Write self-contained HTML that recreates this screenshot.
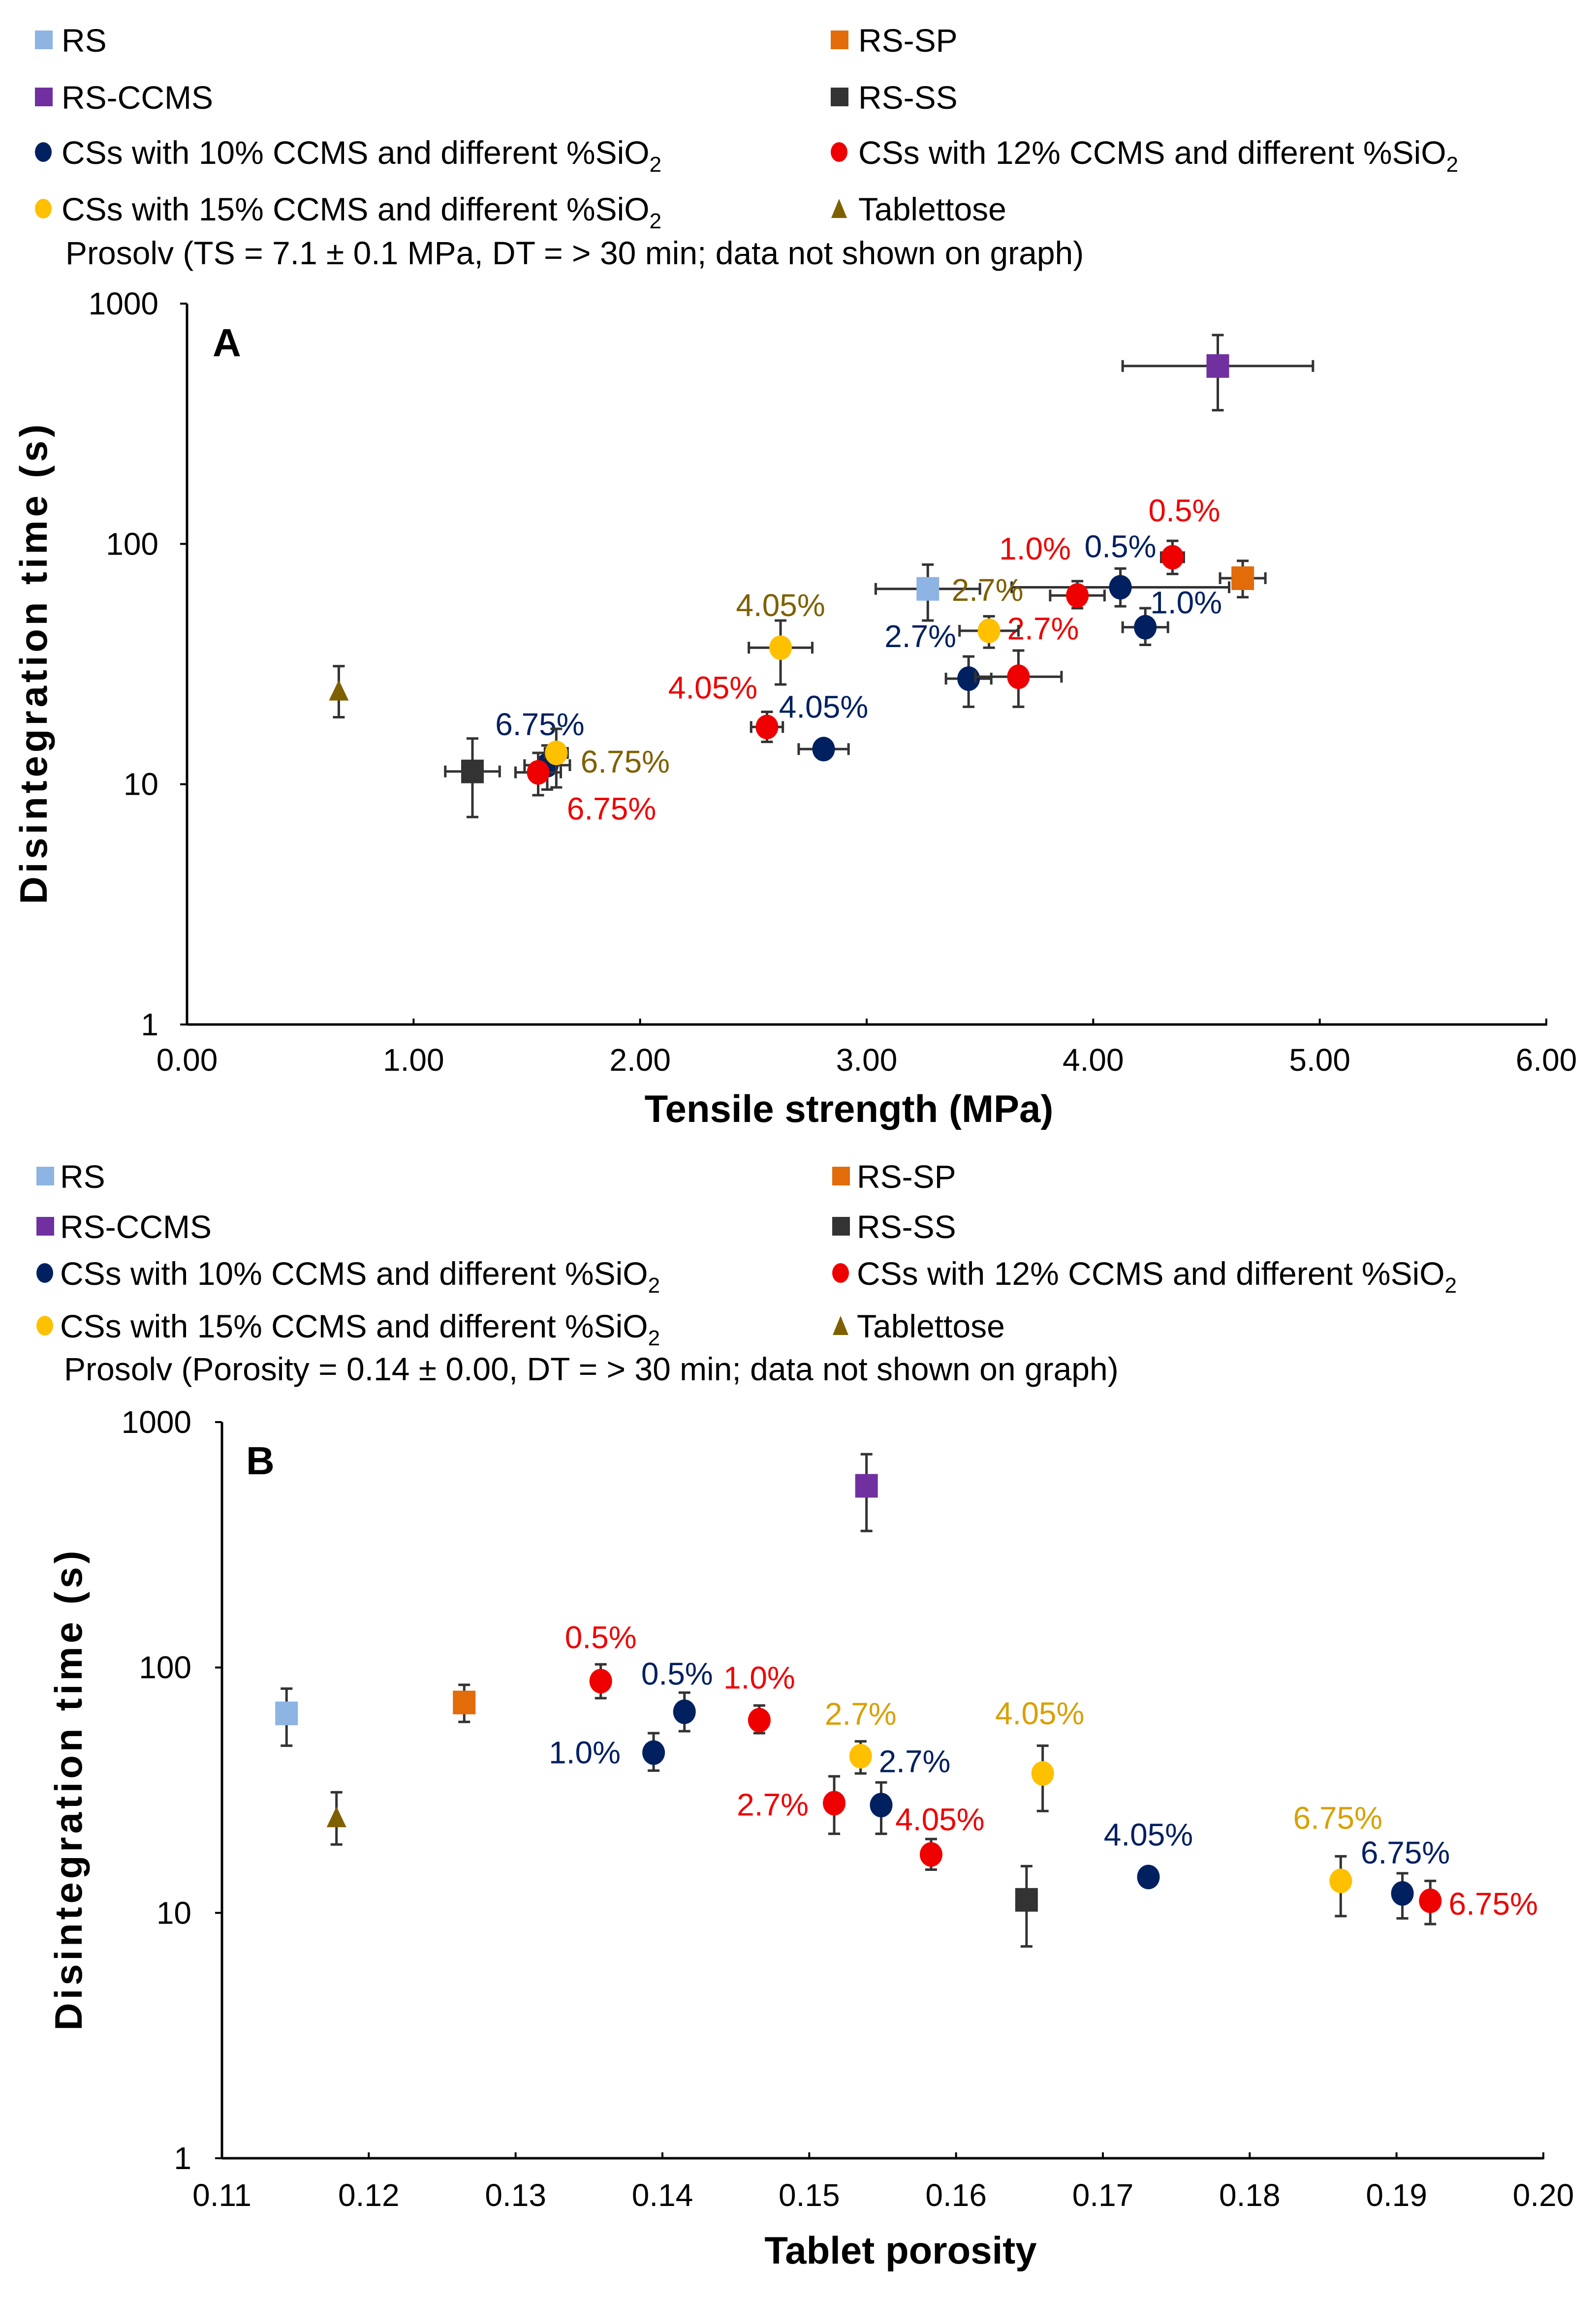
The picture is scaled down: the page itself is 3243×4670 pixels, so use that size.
<!DOCTYPE html>
<html><head><meta charset="utf-8"><style>
html,body{margin:0;padding:0;background:#fff;}
svg{display:block;font-family:"Liberation Sans",Arial,sans-serif;}
</style></head><body>
<svg id="fig" width="3243" height="4670" viewBox="0 0 3243 4670" xmlns="http://www.w3.org/2000/svg"></svg>
<script>
// ---- data ----
const seriesNames = ["RS","RS-SP","RS-CCMS","RS-SS","Tablettose"];
const tsSingles = [3.27, 4.66, 4.55, 1.26, 0.67];
const tsSinglesErr = [0.23, 0.10, 0.42, 0.12, 0.0];
const porSingles = [0.1144, 0.1265, 0.1539, 0.1648, 0.1178];
const dtSingles = [65, 72, 550, 11.3, 24.5];
const dtSinglesLo = [48, 60, 360, 7.3, 19];
const dtSinglesHi = [82, 85, 740, 15.5, 31];

const blueLabels = ["0.5%","1.0%","2.7%","4.05%","6.75%"];
const blueTS = [4.12, 4.23, 3.45, 2.81, 1.59];
const blueTSErr = [0.48, 0.10, 0.10, 0.11, 0.10];
const bluePor = [0.1415, 0.1394, 0.1549, 0.1731, 0.1904];
const blueDT = [66, 45, 27.5, 14, 12];
const blueDTLo = [55, 38, 21, 13.3, 9.5];
const blueDTHi = [79, 54, 34, 14.7, 14.5];

const redLabels = ["0.5%","1.0%","2.7%","4.05%","6.75%"];
const redTS = [4.35, 3.93, 3.67, 2.56, 1.55];
const redTSErr = [0.05, 0.12, 0.19, 0.07, 0.10];
const redPor = [0.1358, 0.1466, 0.1517, 0.1583, 0.1923];
const redDT = [88, 61, 28, 17.3, 11.2];
const redDTLo = [75, 54, 21, 15, 9];
const redDTHi = [103, 70, 36, 20, 13.5];

const yelLabels = ["2.7%","4.05%","6.75%"];
const yelTS = [3.54, 2.62, 1.63];
const yelTSErr = [0.13, 0.14, 0.05];
const yelPor = [0.1535, 0.1659, 0.1862];
const yelDT = [43.5, 37, 13.5];
const yelDTLo = [37, 26, 9.7];
const yelDTHi = [50, 48, 17];

const xTicksA = ["0.00","1.00","2.00","3.00","4.00","5.00","6.00"];
const xTicksB = ["0.11","0.12","0.13","0.14","0.15","0.16","0.17","0.18","0.19","0.20"];
const yTicks = ["1","10","100","1000"];

// ---- drawing ----
const NS="http://www.w3.org/2000/svg";
const svg=document.getElementById('fig');
function el(tag,attrs,parent,name,inter){
  const e=document.createElementNS(NS,tag);
  for(const k in attrs)e.setAttribute(k,attrs[k]);
  
  
  (parent||svg).appendChild(e);return e;
}
const COL={RS:"#8db4e2","RS-SP":"#e26b0a","RS-CCMS":"#7030a0","RS-SS":"#333333",Tablettose:"#7f6000",blue:"#002060",red:"#ee0000",yel:"#ffc000"};

function legend(y0,rows,prosolv,lx,tx,rx,rtx){
  const g=el('g',{},svg,'legend',false);
  const items=[
    [lx,tx,rows[0],"sq",COL.RS,"RS"],[rx,rtx,rows[0],"sq",COL["RS-SP"],"RS-SP"],
    [lx,tx,rows[1],"sq",COL["RS-CCMS"],"RS-CCMS"],[rx,rtx,rows[1],"sq",COL["RS-SS"],"RS-SS"],
    [lx,tx,rows[2],"ci",COL.blue,"CSs with 10% CCMS and different %SiO"],[rx,rtx,rows[2],"ci",COL.red,"CSs with 12% CCMS and different %SiO"],
    [lx,tx,rows[3],"ci",COL.yel,"CSs with 15% CCMS and different %SiO"],[rx,rtx,rows[3],"tr",COL.Tablettose,"Tablettose"]];
  items.forEach(it=>{
    const [mx,txx,y,shape,c,label]=it;
    const eg=el('g',{},g,'legend-entry',false);
    if(shape==="sq")el('rect',{x:mx,y:y-19,width:36,height:38,fill:c},eg,'legend-marker',false);
    else if(shape==="ci")el('ellipse',{cx:mx+17,cy:y,rx:17,ry:20,fill:c},eg,'legend-marker',false);
    else el('polygon',{points:`${mx+1},${y+19} ${mx+33},${y+19} ${mx+17},${y-20}`,fill:c},eg,'legend-marker',false);
    const t=el('text',{x:txx,y:y+24,'font-size':66,fill:'#000'},eg,'legend-label',false);
    t.textContent=label;
    if(label.endsWith("SiO")){const s=el('tspan',{'font-size':44,dy:16},t,'subscript',false);s.textContent="2";}
  });
  const p=el('text',{x:tx+8,y:rows[4]+24,'font-size':66,fill:'#000'},g,'prosolv-note',false);
  p.textContent=prosolv;
}
legend(0,[81,197,309,424,513],"Prosolv (TS = 7.1 \u00B1 0.1 MPa, DT = > 30 min; data not shown on graph)",71,125,1688,1744);
legend(0,[2390,2492,2587,2694,2781],"Prosolv (Porosity = 0.14 \u00B1 0.00, DT = > 30 min; data not shown on graph)",74,122,1691,1741);

function chart(cfg){
  const g=el('g',{},svg,cfg.name,false);
  const X=v=>cfg.x0+(v-cfg.xmin)/(cfg.xmax-cfg.xmin)*(cfg.x1-cfg.x0);
  const Y=v=>cfg.y1-Math.log10(v)/3*(cfg.y1-cfg.y0);
  el('line',{x1:cfg.x0,y1:cfg.y0,x2:cfg.x0,y2:cfg.y1,stroke:'#000','stroke-width':5},g,'y-axis',false);
  el('line',{x1:cfg.x0,y1:cfg.y1,x2:cfg.x1,y2:cfg.y1,stroke:'#000','stroke-width':5},g,'x-axis',false);
  cfg.xt.forEach((lab,i)=>{
    const xv=cfg.xmin+i*(cfg.xmax-cfg.xmin)/(cfg.xt.length-1);
    el('line',{x1:X(xv),y1:cfg.y1-12,x2:X(xv),y2:cfg.y1+2,stroke:'#000','stroke-width':4},g,'x-tick',false);
    const t=el('text',{x:X(xv),y:cfg.xly,'font-size':64,'text-anchor':'middle',fill:'#000'},g,'x-tick-label',false);
    t.textContent=lab;
  });
  yTicks.forEach(lab=>{
    const v=+lab;
    el('line',{x1:cfg.x0-14,y1:Y(v),x2:cfg.x0,y2:Y(v),stroke:'#000','stroke-width':4},g,'y-tick',false);
    const t=el('text',{x:cfg.ylx,y:Y(v)+22,'font-size':64,'text-anchor':'end',fill:'#000'},g,'y-tick-label',false);
    t.textContent=lab;
  });
  const yt=el('text',{x:0,y:0,'font-size':78,'font-weight':'bold','text-anchor':'middle',fill:'#000',transform:`translate(${cfg.ytx},${cfg.yty}) rotate(-90)`,textLength:975,lengthAdjust:'spacing'},g,'y-axis-title',false);
  yt.textContent="Disintegration time (s)";
  const xt=el('text',{x:cfg.xtx,y:cfg.xty,'font-size':78,'font-weight':'bold','text-anchor':'middle',fill:'#000'},g,'x-axis-title',false);
  xt.textContent=cfg.xtitle;
  const pl=el('text',{x:cfg.px,y:cfg.py,'font-size':80,'font-weight':'bold',fill:'#000'},g,'panel-label',false);
  pl.textContent=cfg.panel;

  function err(x,y,xe,lo,hi,pg){
    if(xe>0){
      el('line',{x1:X(x-xe),y1:Y(y),x2:X(x+xe),y2:Y(y),stroke:'#333','stroke-width':5},pg,'x-error-bar',false);
      [x-xe,x+xe].forEach(v=>el('line',{x1:X(v),y1:Y(y)-12,x2:X(v),y2:Y(y)+12,stroke:'#333','stroke-width':5},pg,'x-error-cap',false));
    }
    el('line',{x1:X(x),y1:Y(lo),x2:X(x),y2:Y(hi),stroke:'#333','stroke-width':5},pg,'y-error-bar',false);
    [lo,hi].forEach(v=>el('line',{x1:X(x)-12,y1:Y(v),x2:X(x)+12,y2:Y(v),stroke:'#333','stroke-width':5},pg,'y-error-cap',false));
  }
  seriesNames.forEach((n,i)=>{
    const pg=el('g',{},g,'point-'+n.toLowerCase(),false);
    const xv=cfg.useTS?tsSingles[i]:porSingles[i];
    err(xv,dtSingles[i],cfg.useTS?tsSinglesErr[i]:0,dtSinglesLo[i],dtSinglesHi[i],pg);
    const cx=X(xv),cy=Y(dtSingles[i]);
    if(n==="Tablettose")el('polygon',{points:`${cx-20},${cy+20} ${cx+20},${cy+20} ${cx},${cy-22}`,fill:COL[n]},pg,'marker-tablettose',false);
    else el('rect',{x:cx-23,y:cy-24,width:46,height:48,fill:COL[n]},pg,'marker-'+n.toLowerCase(),false);
  });
  function group(name,col,labCol,labels,xs,xe,dt,lo,hi,offs){
    const sg=el('g',{},g,name,false);
    labels.forEach((lab,i)=>{
      const pg=el('g',{},sg,'point',false);
      const xv=xs[i];
      err(xv,dt[i],cfg.useTS?xe[i]:0,lo[i],hi[i],pg);
      el('ellipse',{cx:X(xv),cy:Y(dt[i]),rx:23,ry:25,fill:col},pg,'marker',false);
      const t=el('text',{x:X(xv)+offs[i][0],y:Y(dt[i])+offs[i][1]+22,'font-size':64,'text-anchor':'middle',fill:labCol},pg,'point-label',false);
      t.textContent=lab;
    });
  }
  group('series-10pct-ccms',COL.blue,COL.blue,blueLabels,cfg.useTS?blueTS:bluePor,blueTSErr,blueDT,blueDTLo,blueDTHi,cfg.blueOff);
  group('series-12pct-ccms',COL.red,COL.red,redLabels,cfg.useTS?redTS:redPor,redTSErr,redDT,redDTLo,redDTHi,cfg.redOff);
  group('series-15pct-ccms',COL.yel,cfg.yelLabCol,yelLabels,cfg.useTS?yelTS:yelPor,yelTSErr,yelDT,yelDTLo,yelDTHi,cfg.yelOff);
}
chart({name:'chart-a',panel:'A',useTS:true,x0:380,x1:3142,xmin:0,xmax:6,y0:617,y1:2082,xt:xTicksA,xly:2176,ylx:322,
  ytx:95,yty:1350,xtx:1725,xty:2280,xtitle:'Tensile strength (MPa)',px:432,py:724,yelLabCol:'#7f6000',
  blueOff:[[0,-83],[83,-50],[-98,-86],[0,-86],[-15,-83]],
  redOff:[[24,-95],[-86,-95],[50,-98],[-110,-80],[149,74]],
  yelOff:[[-3,-83],[0,-86],[140,18]]});
chart({name:'chart-b',panel:'B',useTS:false,x0:451,x1:3136,xmin:0.11,xmax:0.20,y0:2890,y1:4386,xt:xTicksB,xly:4483,ylx:389,
  ytx:166,yty:3639,xtx:1830,xty:4600,xtitle:'Tablet porosity',px:500,py:2996,yelLabCol:'#d9a000',
  blueOff:[[-15,-77],[-140,0],[68,-89],[0,-86],[6,-83]],
  redOff:[[0,-89],[0,-86],[-125,3],[18,-71],[128,6]],
  yelOff:[[0,-86],[-6,-122],[-6,-128]]});
</script>
</body></html>
